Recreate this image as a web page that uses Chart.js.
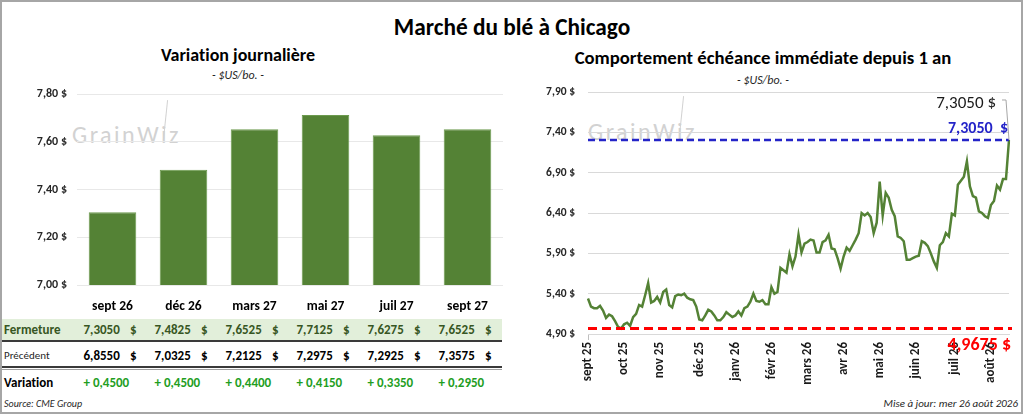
<!DOCTYPE html>
<html lang="fr">
<head>
<meta charset="utf-8">
<title>Marché du blé à Chicago</title>
<script src="https://cdn.jsdelivr.net/npm/chart.js@4.4.1/dist/chart.umd.min.js"></script>
<style>
  html, body { margin: 0; padding: 0; background: #fff; }
  body { width: 1024px; height: 414px; position: relative; overflow: hidden; font-family: Carlito, Lato, sans-serif; color: #000; font-variant-ligatures: none; }
  #cadre { position: absolute; left: 0; top: 0; width: 1019px; height: 410px; border: 2px solid #a6a6a6; }
  .abs { position: absolute; white-space: nowrap; line-height: 1; }
  .centre { text-align: center; width: 400px; }
  #titre { left: 312px; top: 16px; font-size: 23.3px; font-weight: bold; }
  .sous-titre { font-weight: bold; }
  .unite { font-size: 12px; font-style: italic; color: #262626; }
  .logo { font-size: 24px; color: #d2d2d2; letter-spacing: 2.5px; font-weight: 300; }
  .trait-logo { position: absolute; width: 1px; height: 40px; background: #d2d2d2; transform: rotate(6deg); }
  canvas { position: absolute; }
  .bande { position: absolute; left: 2px; width: 500px; }
  .etiquette { position: absolute; font-size: 13px; line-height: 1; white-space: nowrap; }
  .cellule { position: absolute; width: 53px; font-size: 13px; font-weight: bold; line-height: 1; white-space: nowrap; }
  .cellule .dollar { position: absolute; right: 0; top: 0; }
  .pied { font-style: italic; color: #262626; }
</style>
</head>
<body>
<div id="cadre"></div>
<div id="titre" class="abs centre">Marché du blé à Chicago</div>

<div class="abs centre sous-titre" style="left:38px; top:46px; font-size:18px;">Variation journalière</div>
<div class="abs centre unite" style="left:38px; top:69px;">- $US/bo. -</div>
<div class="abs centre sous-titre" style="left:563px; top:49px; font-size:18.7px;">Comportement échéance immédiate depuis 1 an</div>
<div class="abs centre unite" style="left:563px; top:74px;">- $US/bo. -</div>

<div class="abs logo" style="left:72px; top:123px;">GrainWiz</div>
<div class="trait-logo" style="left:165px; top:100px;"></div>
<div class="abs logo" style="left:588px; top:120px;">GrainWiz</div>
<div class="trait-logo" style="left:681px; top:96px;"></div>

<canvas id="graph-barres" width="512" height="240" style="left:0; top:84px;"></canvas>
<canvas id="graph-ligne" width="504" height="300" style="left:520px; top:84px;"></canvas>

<div class="bande" style="top:319px; height:21px; background:#e2efda; border-bottom:2px solid #3a3a3a;"></div>
<div class="bande" style="top:366px; height:1px; border-top:2px solid #3a3a3a; border-bottom:1px solid #a0a0a0;"></div>
<div id="tableau"></div>

<div class="abs pied" style="left:4px; top:399px; font-size:10px;">Source: CME Group</div>
<div class="abs pied" style="right:6px; top:398px; font-size:11px;">Mise à jour: mer 26 août 2026</div>

<script>
// Contrats du jour (tableau de gauche)
const contrats = ['sept 26', 'déc 26', 'mars 27', 'mai 27', 'juil 27', 'sept 27'];
const fermeture = [7.3050, 7.4825, 7.6525, 7.7125, 7.6275, 7.6525];
const precedent = [6.8550, 7.0325, 7.2125, 7.2975, 7.2925, 7.3575];
const variation = [0.4500, 0.4500, 0.4400, 0.4150, 0.3350, 0.2950];

const prixEcheance = [
  5.34, 5.24, 5.22, 5.22, 5.25, 5.19, 5.10, 5.14, 5.12, 5.06,
  4.99, 4.9675, 5.02, 5.04, 5.00, 5.11, 5.15, 5.26, 5.24, 5.38,
  5.53, 5.29, 5.31, 5.36, 5.29, 5.42, 5.45, 5.26, 5.23, 5.37,
  5.39, 5.38, 5.40, 5.35, 5.33, 5.32, 5.24, 5.08, 5.07, 5.13,
  5.20, 5.18, 5.13, 5.07, 5.07, 5.11, 5.17, 5.14, 5.11, 5.13,
  5.18, 5.13, 5.22, 5.24, 5.30, 5.40, 5.31, 5.30, 5.32, 5.27,
  5.27, 5.48, 5.40, 5.42, 5.72, 5.69, 5.66, 5.89, 5.74, 5.86,
  6.13, 5.91, 6.02, 6.04, 6.07, 6.06, 5.91, 5.91, 6.04, 6.06,
  6.13, 5.96, 5.95, 5.84, 5.71, 5.86, 5.97, 5.93, 6.00, 6.07,
  6.15, 6.40, 6.37, 6.40, 6.35, 6.15, 6.28, 6.79, 6.37, 6.65,
  6.59, 6.44, 6.36, 6.11, 6.09, 6.05, 5.82, 5.82, 5.84, 5.86,
  5.87, 6.05, 6.03, 5.99, 5.90, 5.80, 5.72, 6.00, 6.04, 6.15,
  6.11, 6.39, 6.37, 6.75, 6.80, 6.85, 7.04, 6.73, 6.61, 6.59,
  6.42, 6.40, 6.36, 6.34, 6.50, 6.55, 6.74, 6.69, 6.82, 6.82,
  7.3050
];
const moisEtiquettes = ['sept 25', 'oct 25', 'nov 25', 'déc 25', 'janv 26', 'févr 26',
  'mars 26', 'avr 26', 'mai 26', 'juin 26', 'juil 26', 'août 26'];
const moisPosition = [0, 12, 24, 37, 49, 61, 73, 85, 97, 109, 122, 134];
const prixActuel = 7.3050;
const prixMinimum = 4.9675;

const police = 'Carlito, Lato, sans-serif';
Chart.defaults.font.family = police;

function fmt(v, n) {
  return v.toFixed(n).replace('.', ',');
}

// Largeur fixe de l'axe y, sans marge ajoutée en haut
function axeFixe(largeur) {
  return s => {
    s.width = largeur;
    s.paddingTop = 0;
    s.paddingBottom = 0;
  };
}

// Graphique à barres : fermeture par contrat
const graphBarres = new Chart(document.getElementById('graph-barres'), {
  type: 'bar',
  data: {
    labels: contrats,
    datasets: [{
      data: fermeture,
      backgroundColor: '#548235',
      borderColor: '#6c9a4e',
      borderWidth: 1,
      barPercentage: 0.67,
      categoryPercentage: 1
    }]
  },
  options: {
    responsive: false,
    animation: false,
    layout: { padding: { top: 10, right: 9, left: 0, bottom: 0 } },
    plugins: { legend: { display: false }, tooltip: { enabled: false } },
    scales: {
      x: {
        grid: { display: false, drawTicks: false },
        border: { display: false },
        ticks: { color: '#000', font: { size: 13.5, weight: 'bold' }, padding: 14 },
        afterFit: s => { s.height = 39; }
      },
      y: {
        min: 7,
        max: 7.8,
        ticks: {
          stepSize: 0.2,
          color: '#262626',
          font: { size: 12, weight: 'bold' },
          padding: 10,
          callback: v => fmt(v, 2) + ' $'
        },
        grid: { color: '#e8e8e8', drawTicks: false },
        border: { display: false },
        afterFit: axeFixe(77)
      }
    }
  }
});

// Étiquettes de l'axe x : seulement les mois
const etiquettesX = prixEcheance.map((_, i) => {
  const k = moisPosition.indexOf(i);
  return k >= 0 ? moisEtiquettes[k] : '';
});

// Lignes repères (prix actuel, minimum) et leurs étiquettes
const reperes = {
  id: 'reperes',
  afterDatasetsDraw(chart) {
    const { ctx, chartArea, scales } = chart;
    const x = scales.x, y = scales.y;
    const yActuel = y.getPixelForValue(prixActuel);
    const yMin = y.getPixelForValue(prixMinimum);
    const dernier = prixEcheance.length - 1;
    const xDernier = x.getPixelForValue(dernier);
    const yDernier = y.getPixelForValue(prixEcheance[dernier]);

    ctx.save();
    ctx.lineWidth = 2.5;
    ctx.setLineDash([7, 4]);
    ctx.strokeStyle = '#2424c8';
    ctx.beginPath();
    ctx.moveTo(chartArea.left, yActuel);
    ctx.lineTo(chartArea.right, yActuel);
    ctx.stroke();

    ctx.lineWidth = 3;
    ctx.setLineDash([9, 5]);
    ctx.strokeStyle = '#ff0000';
    ctx.beginPath();
    ctx.moveTo(chartArea.left, yMin);
    ctx.lineTo(chartArea.right + 3, yMin);
    ctx.stroke();

    ctx.setLineDash([]);
    ctx.lineWidth = 1;
    ctx.strokeStyle = '#a6a6a6';
    ctx.beginPath();
    ctx.moveTo(xDernier - 7, yActuel - 40);
    ctx.lineTo(xDernier - 3, yActuel - 40);
    ctx.lineTo(xDernier, yDernier);
    ctx.stroke();

    ctx.textAlign = 'right';
    ctx.textBaseline = 'middle';
    ctx.font = '17px ' + police;
    ctx.fillStyle = '#1a1a1a';
    ctx.fillText(fmt(prixActuel, 4) + ' $', xDernier - 13, yActuel - 36);
    ctx.font = 'bold 16px ' + police;
    ctx.fillStyle = '#2424c8';
    ctx.fillText(fmt(prixActuel, 4) + '  $', chartArea.right - 1, yActuel - 11);
    ctx.font = 'bold 18px ' + police;
    ctx.fillStyle = '#ff0000';
    ctx.fillText(fmt(prixMinimum, 4) + ' $', chartArea.right + 2, yMin + 17);
    ctx.restore();
  }
};

// Graphique linéaire : échéance immédiate depuis 1 an
new Chart(document.getElementById('graph-ligne'), {
  type: 'line',
  data: {
    labels: etiquettesX,
    datasets: [{
      data: prixEcheance,
      borderColor: '#548235',
      borderWidth: 2.5,
      pointRadius: 0,
      tension: 0,
      fill: false
    }]
  },
  options: {
    responsive: false,
    animation: false,
    layout: { padding: { top: 8, right: 15, left: 0, bottom: 0 } },
    plugins: { legend: { display: false }, tooltip: { enabled: false } },
    scales: {
      x: {
        grid: {
          drawOnChartArea: false,
          tickLength: 6,
          color: c => (etiquettesX[c.index] ? '#bfbfbf' : 'rgba(0,0,0,0)')
        },
        border: { color: '#d9d9d9' },
        ticks: {
          autoSkip: false,
          maxRotation: 90,
          minRotation: 90,
          padding: 2,
          color: '#1a1a1a',
          font: { size: 13, weight: 'bold' },
          callback: (v, i) => etiquettesX[i] || null
        },
        afterFit: s => { s.height = 50; }
      },
      y: {
        min: 4.9,
        max: 7.9,
        ticks: {
          stepSize: 0.5,
          color: '#262626',
          font: { size: 11.5, weight: 'bold' },
          padding: 13,
          callback: v => fmt(v, 2) + ' $'
        },
        grid: { color: '#d9d9d9', drawTicks: false },
        border: { display: false },
        afterFit: axeFixe(68)
      }
    }
  },
  plugins: [reperes]
});

// Tableau sous les barres, aligné sur les colonnes du graphique
function remplirTableau() {
  const tableau = document.getElementById('tableau');
  const echelle = graphBarres.scales.x;

  const lignes = [
    { nom: 'Fermeture', haut: 323, style: 'font-weight:bold;color:#375623;', valeurs: fermeture, couleur: '#375623', dollar: true },
    { nom: 'Précédent', haut: 349, style: 'font-size:11px;color:#262626;top:350px;', valeurs: precedent, couleur: '#000', dollar: true },
    { nom: 'Variation', haut: 376, style: 'font-weight:bold;', valeurs: variation, couleur: '#1f9e1f', dollar: false }
  ];

  lignes.forEach(l => {
    const nom = document.createElement('div');
    nom.className = 'etiquette';
    nom.style.cssText = 'left:4px;top:' + l.haut + 'px;' + l.style;
    nom.textContent = l.nom;
    tableau.appendChild(nom);

    l.valeurs.forEach((v, k) => {
      const centre = echelle.getPixelForTick(k);
      const cell = document.createElement('div');
      cell.className = 'cellule';
      cell.style.left = (centre - 29) + 'px';
      cell.style.top = l.haut + 'px';
      cell.style.color = l.couleur;
      if (l.dollar) {
        cell.innerHTML = fmt(v, 4) + '<span class="dollar">$</span>';
      } else {
        cell.textContent = '+ ' + fmt(v, 4);
      }
      tableau.appendChild(cell);
    });
  });
}

remplirTableau();
</script>
</body>
</html>
